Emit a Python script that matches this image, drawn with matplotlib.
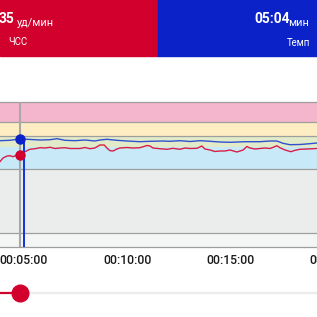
import matplotlib.pyplot as plt
from matplotlib.patches import Rectangle

plt.rcParams['font.family'] = ['Roboto', 'DejaVu Sans']

# heart rate samples (time in seconds, bpm)
hr_time = [220, 230, 239, 251, 259, 268, 280, 288, 303, 317, 332, 347, 361, 376, 390,
           405, 419, 434, 448, 463, 477, 492, 506, 521, 533, 541, 550, 559, 570, 579,
           599, 617, 637, 658, 666, 675, 695, 716, 733, 753, 768, 783, 803, 817, 826,
           841, 855, 870, 884, 899, 919, 937, 948, 957, 972, 986, 1001, 1015, 1027,
           1035, 1044, 1059, 1076, 1088, 1102, 1123, 1152, 1160]
hr_bpm = [126, 128.3, 132, 134, 134.3, 133.3, 135, 135, 138.3, 140.7, 141.3, 142.3, 142,
          142.7, 141.5, 142, 142.3, 141.5, 141.5, 141.5, 142.5, 141.3, 142, 145, 145, 142,
          139.3, 139, 141, 142, 142.5, 142, 142.3, 144.5, 144, 142, 141.3, 140.7, 141.7,
          140.7, 142, 141.5, 141.7, 144, 141, 140, 138.5, 139, 139, 140, 138, 140, 143.5,
          142, 141, 141.5, 142, 141.5, 143, 144.3, 142.3, 140, 138.3, 139.7, 140.7, 141,
          141.5, 141.5]

# pace samples (time in seconds, seconds per km)
pace_time = [220, 230, 259, 288, 309, 347, 376, 396, 419, 448, 477, 506, 521, 541, 570,
             599, 637, 666, 704, 724, 753, 783, 812, 841, 870, 899, 942, 986, 1015, 1035,
             1053, 1073, 1102, 1131, 1152, 1160]
pace_sec = [306, 305.7, 305.3, 304, 304.3, 305, 304.7, 303.7, 305.3, 305.7, 305, 306, 305,
            304.3, 305.3, 306, 306.7, 306.3, 306, 306.3, 305.7, 306.5, 305.7, 306.3, 307,
            307.3, 306.7, 306.7, 306, 306, 308.3, 309.7, 309.5, 308.7, 308, 308]

# heart rate zones
zone_edges = [43, 57, 121, 143, 154, 168, 188]
zone_colors = ['#F4F5F5', '#EBECEC', '#C8EAF8', '#E2EBC9', '#FEEDC2', '#F4B6CD']
zone_lines = [43, 57, 121, 154, 168, 188]

tick_times = [300, 600, 900, 1200]
tick_labels = ['00:05:00', '00:10:00', '00:15:00', '00:20:00']

cursor_time = 288
cursor_hr = 135
cursor_pace = 304
marker_time = 300

RED = '#D2002C'
BLUE = '#0A22C8'

fig = plt.figure(figsize=(3.17, 3.17), dpi=100)
fig.patch.set_facecolor('white')

# header blocks
fig.patches.append(Rectangle((0, 1 - 56 / 317), 158 / 317, 56 / 317,
                             transform=fig.transFigure, color=RED, zorder=0))
fig.patches.append(Rectangle((158 / 317, 1 - 56 / 317), 159 / 317, 56 / 317,
                             transform=fig.transFigure, color=BLUE, zorder=0))

def fy(px):
    return 1 - px / 317

fig.text(-1 / 317, fy(23.3), '35', color='white', fontsize=10, fontweight='bold', va='baseline')
fig.text(16.5 / 317, fy(25.5), 'уд/мин', color='white', fontsize=7.8, va='baseline')
fig.text(8 / 317, fy(45), 'ЧСС', color='white', fontsize=6.9, va='baseline')
fig.text(254.5 / 317, fy(22.7), '05:04', color='white', fontsize=10, fontweight='bold', va='baseline')
fig.text(288 / 317, fy(26), 'мин', color='white', fontsize=7.8, va='baseline')
fig.text(287 / 317, fy(46), 'Темп', color='white', fontsize=6.9, va='baseline')

# chart
ax = fig.add_axes([0, 70 / 317, 1, 145 / 317])
for lo, hi, c in zip(zone_edges[:-1], zone_edges[1:], zone_colors):
    ax.axhspan(lo, hi, color=c, lw=0, zorder=0)
for lv in zone_lines:
    ax.axhline(lv, color='#9E9E9E', lw=0.9, zorder=1, clip_on=False)

xmin, xmax = 230.2, 1151.8
ax.set_xlim(xmin, xmax)
ax.set_ylim(zone_edges[0], zone_edges[-1])
ax.set_xticks([])
ax.set_yticks([])
for s in ax.spines.values():
    s.set_visible(False)

ax.plot(hr_time, hr_bpm, color='#D81E45', lw=1.0, zorder=3)

ax2 = ax.twinx()
ax2.set_ylim(412, 267)
ax2.set_xlim(xmin, xmax)
ax2.set_yticks([])
for s in ax2.spines.values():
    s.set_visible(False)
ax2.plot(pace_time, pace_sec, color='#3050D0', lw=1.0, zorder=3)

# cursor and marker lines
ax.axvline(cursor_time, ymin=0, ymax=1.0, color='#A8A8A8', lw=1.5, zorder=4)
ax.vlines(marker_time, zone_edges[0], 150, color='#1030E0', lw=1.4, zorder=5)
ax2.plot([cursor_time], [cursor_pace], 'o', color='#0A22C8', ms=6.5, zorder=6)
ax.plot([cursor_time], [cursor_hr], 'o', color=RED, ms=6.5, zorder=6)

for t, lab in zip(tick_times, tick_labels):
    ax.text(t, -13 / 145, lab, transform=ax.get_xaxis_transform(), ha='center', va='center',
            fontsize=8.8, color='#1A1A1A', fontweight='medium', clip_on=False)

# slider
axs = fig.add_axes([0, 12 / 317, 1, 25 / 317])
axs.set_xlim(xmin, xmax)
axs.set_ylim(0, 1)
axs.axis('off')
axs.plot([cursor_time, xmax], [0.5, 0.5], color='#ECECEC', lw=1.6, solid_capstyle='butt')
axs.plot([xmin, cursor_time], [0.5, 0.5], color=RED, lw=1.6, solid_capstyle='butt')
axs.plot([cursor_time], [0.5], 'o', color=RED, ms=12, zorder=5)

fig.savefig('out.png', dpi=100)
